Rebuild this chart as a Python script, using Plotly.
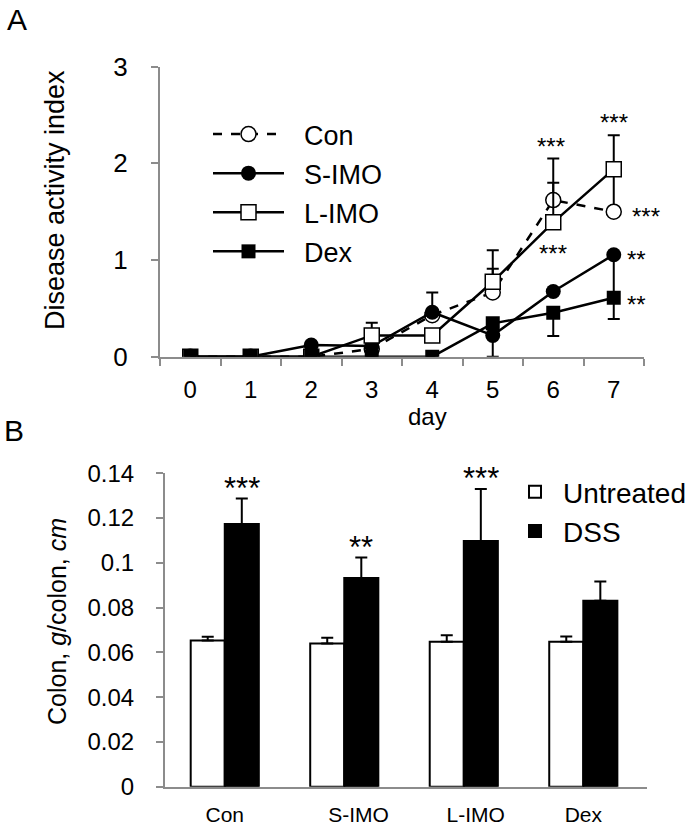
import plotly.graph_objects as go

# ---------------- Panel A data ----------------
days = ["0", "1", "2", "3", "4", "5", "6", "7"]
con = [0, 0, 0, 0.08, 0.43, 0.665, 1.62, 1.50]
s_imo = [0, 0, 0.12, 0.11, 0.46, 0.22, 0.675, 1.055]
l_imo = [0, 0, 0, 0.22, 0.22, 0.775, 1.39, 1.94]
dex = [0, 0, 0, 0, 0, 0.345, 0.455, 0.61]

con_err_plus = [None, None, None, None, None, 0.245, 0.18, 0.42]
s_imo_err_plus = [None, None, None, None, 0.205, None, None, None]
s_imo_err_minus = [None, None, None, None, None, 0.22, None, 0.45]
l_imo_err_plus = [None, None, None, 0.13, None, 0.325, 0.66, 0.35]
dex_err_minus = [None, None, None, None, None, None, 0.24, 0.22]

# significance marks panel A: (day index, value, text, pixel shift right)
sig_a_x = [6, 7, 7, 6, 7, 7]
sig_a_shift = [-2, 0, 32, 0, 23, 23]
sig_a_y = [2.21, 2.45, 1.48, 1.10, 1.04, 0.57]
sig_a_text = ["***", "***", "***", "***", "**", "**"]

# ---------------- Panel B data ----------------
groups = ["Con", "S-IMO", "L-IMO", "Dex"]
untreated = [0.0653, 0.0640, 0.0647, 0.0648]
untreated_err = [0.0017, 0.0025, 0.0030, 0.0023]
dss = [0.1174, 0.0932, 0.1098, 0.0831]
dss_err = [0.0113, 0.0092, 0.0232, 0.0086]
sig_b = ["***", "**", "***", ""]

FONT = "Liberation Sans, Arial, sans-serif"
W, H = 696, 827
AX = "#8c8c8c"


def px_x(p):
    return p / W


def px_y(p):
    return (H - p) / H


fig = go.Figure()


def err(plus, minus=None):
    n = len(plus)
    minus = minus if minus is not None else [None] * n
    return dict(type="data", symmetric=False, array=plus, arrayminus=minus,
                color="black", thickness=2, width=6)


fig.add_trace(go.Scatter(
    x=days, y=con, name="\u00a0\u00a0Con", mode="lines+markers",
    line=dict(color="black", width=2.5, dash="dash"),
    marker=dict(symbol="circle", size=15, color="white", line=dict(color="black", width=1.5)),
    error_y=err(con_err_plus), xaxis="x", yaxis="y", legend="legend", legendgroup="a1"))
fig.add_trace(go.Scatter(
    x=days, y=s_imo, name="\u00a0\u00a0S-IMO", mode="lines+markers",
    line=dict(color="black", width=2.5),
    marker=dict(symbol="circle", size=15, color="black"),
    error_y=err(s_imo_err_plus, s_imo_err_minus), xaxis="x", yaxis="y", legend="legend", legendgroup="a2"))
fig.add_trace(go.Scatter(
    x=days, y=l_imo, name="\u00a0\u00a0L-IMO", mode="lines+markers",
    line=dict(color="black", width=2.5),
    marker=dict(symbol="square", size=15, color="white", line=dict(color="black", width=1.5)),
    error_y=err(l_imo_err_plus), xaxis="x", yaxis="y", legend="legend", legendgroup="a3"))
fig.add_trace(go.Scatter(
    x=days, y=dex, name="\u00a0\u00a0Dex", mode="lines+markers",
    line=dict(color="black", width=2.5),
    marker=dict(symbol="square", size=14, color="black"),
    error_y=err([None] * len(days), dex_err_minus), xaxis="x", yaxis="y", legend="legend", legendgroup="a4"))

# Panel B bars
xb = list(range(len(groups)))
fig.add_trace(go.Bar(
    x=xb, y=untreated, name="Untreated",
    marker=dict(color="white", line=dict(color="black", width=2)),
    error_y=dict(type="data", symmetric=False, array=untreated_err, arrayminus=[0] * 4,
                 color="black", thickness=2, width=6),
    xaxis="x2", yaxis="y2", legend="legend2", legendgroup="b1"))
fig.add_trace(go.Bar(
    x=xb, y=dss, name="DSS",
    marker=dict(color="black", line=dict(color="black", width=2)),
    error_y=dict(type="data", symmetric=False, array=dss_err, arrayminus=[0] * 4,
                 color="black", thickness=2, width=6),
    xaxis="x2", yaxis="y2", legend="legend2", legendgroup="b2"))

annotations = []
for xv, xs, yv, t in zip(sig_a_x, sig_a_shift, sig_a_y, sig_a_text):
    annotations.append(dict(x=xv, y=yv, xref="x", yref="y", text=t, showarrow=False,
                            xshift=xs, yshift=-3, xanchor="center", yanchor="middle",
                            font=dict(family=FONT, size=24, color="black")))
for i, t in enumerate(sig_b):
    if t:
        annotations.append(dict(x=xb[i], y=dss[i] + dss_err[i], xref="x2", yref="y2", text=t,
                                showarrow=False, xshift=17, yshift=10,
                                xanchor="center", yanchor="middle",
                                font=dict(family=FONT, size=31, color="black")))

text_common = dict(xref="paper", yref="paper", showarrow=False, xanchor="center", yanchor="middle")
annotations += [
    dict(x=px_x(17), y=px_y(19), text="A",
         font=dict(family=FONT, size=30, color="black"), **text_common),
    dict(x=px_x(14), y=px_y(430), text="B",
         font=dict(family=FONT, size=30, color="black"), **text_common),
    dict(x=px_x(427), y=px_y(416), text="day",
         font=dict(family=FONT, size=24, color="black"), **text_common),
    dict(x=px_x(55), y=px_y(200), text="Disease activity index", textangle=-90,
         font=dict(family=FONT, size=27, color="black"), **text_common),
    dict(x=px_x(57), y=px_y(622), text="Colon, <i>g</i>/colon, <i>cm</i>", textangle=-90,
         font=dict(family=FONT, size=25, color="black"), **text_common),
]

axis_common = dict(showgrid=False, zeroline=False, showline=True, linecolor=AX, linewidth=2,
                   ticks="outside", tickcolor=AX, tickwidth=2, ticklen=7, automargin=False)

fig.update_layout(
    width=W, height=H, autosize=False,
    margin=dict(l=0, r=0, t=0, b=0, pad=0, autoexpand=False),
    paper_bgcolor="white", plot_bgcolor="white",
    font=dict(family=FONT, color="black"),
    barmode="group", bargap=0.43, bargroupgap=0,
    xaxis=dict(domain=[px_x(160), px_x(644)], type="category", range=[-0.5, 7.5],
               tickson="boundaries", anchor="y", ticklabelstandoff=10,
               tickfont=dict(family=FONT, size=24, color="black"), **axis_common),
    yaxis=dict(domain=[px_y(356.7), px_y(66.7)], range=[0, 3], tickvals=[0, 1, 2, 3],
               anchor="x", ticklabelstandoff=18,
               tickfont=dict(family=FONT, size=26, color="black"), **axis_common),
    xaxis2=dict(domain=[px_x(165), px_x(647)], range=[-0.5, 3.533], anchor="y2",
                tickvals=[0, 1.12, 2.1, 3.0], ticktext=groups, automargin=False,
                showgrid=False, zeroline=False, showline=True, linecolor=AX, linewidth=2,
                ticks="", ticklabelstandoff=8,
                tickfont=dict(family=FONT, size=21, color="black")),
    yaxis2=dict(domain=[px_y(786.7), px_y(473.3)], range=[0, 0.14],
                tickvals=[0, 0.02, 0.04, 0.06, 0.08, 0.1, 0.12, 0.14],
                ticktext=["0", "0.02", "0.04", "0.06", "0.08", "0.1", "0.12", "0.14"],
                anchor="x2", ticklabelstandoff=17,
                tickfont=dict(family=FONT, size=24, color="black"), **axis_common),
    legend=dict(x=px_x(208), y=px_y(110), xanchor="left", yanchor="top",
                bgcolor="rgba(0,0,0,0)", itemwidth=71, tracegroupgap=1,
                font=dict(family=FONT, size=27, color="black")),
    legend2=dict(x=px_x(507), y=px_y(467), xanchor="left", yanchor="top",
                 bgcolor="rgba(0,0,0,0)", itemwidth=46, tracegroupgap=0,
                 font=dict(family=FONT, size=28, color="black")),
    annotations=annotations,
    showlegend=True,
)

fig.write_html("out.html", config={"displayModeBar": False},
               post_script="document.body.style.margin='0';document.body.style.overflow='hidden';")
